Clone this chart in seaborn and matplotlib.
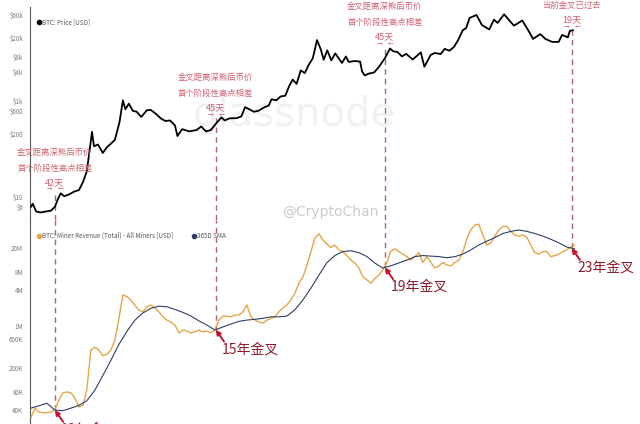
"""BTC price vs. miner revenue golden-cross chart (glassnode style)."""
import matplotlib

matplotlib.use("Agg")

import matplotlib.dates as mdates  # noqa: E402
import matplotlib.pyplot as plt  # noqa: E402
import matplotlib.ticker as mticker  # noqa: E402
import numpy as np  # noqa: E402
import pandas as pd  # noqa: E402
import seaborn as sns  # noqa: E402
from matplotlib.lines import Line2D  # noqa: E402

# --- data ----------------------------------------------------------------
price_dates = [
    "2012-01-01", "2012-01-15", "2012-02-10", "2012-03-15", "2012-04-20", "2012-06-01",
    "2012-07-01", "2012-07-30", "2012-08-15", "2012-09-10", "2012-10-20", "2012-11-25",
    "2013-01-01", "2013-02-01", "2013-03-01", "2013-03-20", "2013-04-10", "2013-04-25",
    "2013-05-25", "2013-07-01", "2013-08-01", "2013-09-01", "2013-10-01", "2013-11-05",
    "2013-12-01", "2013-12-20", "2014-01-15", "2014-02-15", "2014-03-15", "2014-04-20",
    "2014-06-01", "2014-07-01", "2014-08-10", "2014-09-15", "2014-10-20", "2014-11-25",
    "2015-01-01", "2015-01-20", "2015-02-25", "2015-04-20", "2015-06-15", "2015-07-20",
    "2015-08-25", "2015-10-01", "2015-11-07", "2015-12-20", "2016-01-15", "2016-02-20",
    "2016-04-15", "2016-05-20", "2016-06-18", "2016-07-20", "2016-08-25", "2016-10-01",
    "2016-11-05", "2016-12-15", "2017-01-05", "2017-02-10", "2017-03-15", "2017-04-20",
    "2017-05-20", "2017-06-15", "2017-07-15", "2017-08-15", "2017-09-15", "2017-10-15",
    "2017-11-15", "2017-12-17", "2018-01-15", "2018-02-06", "2018-03-05", "2018-04-05",
    "2018-05-05", "2018-06-25", "2018-07-25", "2018-08-15", "2018-10-01", "2018-11-10",
    "2018-11-25", "2018-12-15", "2019-01-15", "2019-02-25", "2019-04-03", "2019-05-17",
    "2019-06-26", "2019-07-20", "2019-08-20", "2019-09-25", "2019-10-26", "2019-12-15",
    "2020-01-20", "2020-02-15", "2020-03-13", "2020-04-30", "2020-06-01", "2020-07-15",
    "2020-08-15", "2020-09-20", "2020-10-25", "2020-11-25", "2020-12-31", "2021-01-25",
    "2021-02-20", "2021-04-14", "2021-05-25", "2021-07-20", "2021-08-25", "2021-09-21",
    "2021-11-10", "2021-12-20", "2022-01-24", "2022-03-28", "2022-05-12", "2022-06-18",
    "2022-08-12", "2022-09-20", "2022-11-10", "2022-12-30", "2023-01-25", "2023-03-10",
    "2023-03-25", "2023-04-20",
]
price_usd = [
    6.0, 7.0, 4.8, 4.6, 4.8, 5.0,
    6.0, 9.5, 11.5, 10.0, 11.0, 12.5,
    13.5, 20, 33, 80, 220, 110,
    120, 80, 105, 125, 150, 350,
    1000, 650, 850, 600, 580, 450,
    620, 630, 520, 420, 370, 380,
    300, 180, 250, 225, 240, 285,
    225, 240, 320, 440, 380, 420,
    425, 460, 720, 650, 575, 610,
    700, 780, 1050, 1000, 1200, 1250,
    2000, 2700, 2200, 4200, 3700, 5500,
    7500, 18000, 11500, 7000, 11000, 6800,
    9500, 6000, 8200, 6300, 6600, 6400,
    4000, 3300, 3600, 3800, 5000, 7500,
    12000, 10500, 10200, 8200, 9300, 7100,
    8600, 10000, 5000, 8800, 9700, 9200,
    11800, 10800, 13000, 18000, 29000, 32000,
    52000, 60000, 37000, 30000, 48000, 41000,
    62000, 46000, 36000, 46000, 29000, 19000,
    24000, 19000, 16500, 16500, 23000, 20500,
    28000, 29000,
]

# miner revenue (USD/day), one value per month from Jan 2012
revenue_usd = [
    30e3, 43e3, 37e3, 36e3, 36e3, 37e3, 40e3, 59e3, 77e3, 80e3, 77e3, 63e3,
    45e3, 48e3, 86e3, 400e3, 445e3, 400e3, 320e3, 340e3, 400e3, 587e3, 1.35e6, 3.3e6,
    3.1e6, 2.7e6, 2.25e6, 1.86e6, 1.73e6, 2.1e6, 2.25e6, 2.0e6, 1.73e6, 1.43e6, 1.26e6, 1.17e6,
    1.04e6, 770e3, 862e3, 830e3, 770e3, 800e3, 862e3, 800e3, 830e3, 770e3, 862e3, 1.26e6,
    1.47e6, 1.47e6, 1.43e6, 1.53e6, 1.53e6, 1.73e6, 2.25e6, 1.43e6, 1.26e6, 1.17e6, 1.12e6, 1.26e6,
    1.35e6, 1.43e6, 1.73e6, 2.0e6, 2.25e6, 2.73e6, 3.5e6, 5.2e6, 6.6e6, 10.4e6, 17.5e6, 29.5e6,
    34.5e6, 27e6, 23.5e6, 20.5e6, 22.5e6, 18.6e6, 17.5e6, 15e6, 12.6e6, 11.3e6, 9.3e6, 6.6e6,
    5.9e6, 5.2e6, 6.2e6, 7.1e6, 8.6e6, 11.5e6, 17.5e6, 19.4e6, 17.5e6, 15.9e6, 14.4e6, 12.6e6,
    14.4e6, 16.8e6, 11.5e6, 14.4e6, 11.5e6, 9.3e6, 10.1e6, 11.5e6, 10.4e6, 10.1e6, 11.5e6, 12.6e6,
    17.5e6, 29.5e6, 40e6, 48.5e6, 50e6, 33e6, 22.5e6, 24.4e6, 31.6e6, 40e6, 46e6, 46e6,
    37.5e6, 33e6, 31.6e6, 33e6, 30.4e6, 22.5e6, 16.8e6, 15.9e6, 17.5e6, 17.5e6, 14.4e6, 15e6,
    15.9e6, 17.5e6, 18.6e6, 20.8e6, 22.5e6,
]

# 365D SMA, one value every two months from Jan 2012
sma_usd = [
    43e3, 47e3, 52e3, 40e3, 39e3, 43e3,
    48e3, 57e3, 85e3, 150e3, 270e3, 500e3,
    820e3, 1.25e6, 1.65e6, 1.98e6, 2.15e6, 2.1e6,
    1.9e6, 1.7e6, 1.48e6, 1.23e6, 1.04e6, 862e3,
    970e3, 1.08e6, 1.2e6, 1.26e6, 1.3e6, 1.35e6,
    1.43e6, 1.43e6, 1.47e6, 1.86e6, 2.73e6, 4.3e6,
    7.1e6, 11.3e6, 15e6, 17.5e6, 18e6, 16.8e6,
    14.4e6, 11.3e6, 9.3e6, 10.1e6, 11.3e6, 12.6e6,
    14.4e6, 15e6, 14.7e6, 14.4e6, 13.8e6, 14.4e6,
    15.9e6, 18.6e6, 22.5e6, 26e6, 30e6, 35e6,
    38e6, 40e6, 38e6, 35e6, 31.6e6, 28e6,
    24.4e6, 20.8e6, 19.4e6,
]

cross_dates = ["2012-07-01", "2015-11-07", "2019-05-17", "2023-04-08"]
cross_labels = ["12年金叉", "15年金叉", "19年金叉", "23年金叉"]
gap_days = ["42天", "45天", "45天", "19天"]
gap_notes = [
    "金叉距离深熊后币价\n首个阶段性高点相差",
    "金叉距离深熊后币价\n首个阶段性高点相差",
    "金叉距离深熊后币价\n首个阶段性高点相差",
    "当前金叉已过去",
]

price_ticks = [6, 10, 200, 600, 1000, 4000, 8000, 20000, 60000]
price_tick_labels = ["$6", "$10", "$200", "$600", "$1k", "$4k", "$8k", "$20k", "$60k"]
rev_ticks = [40e3, 80e3, 200e3, 600e3, 1e6, 4e6, 8e6, 20e6]
rev_tick_labels = ["40K", "80K", "200K", "600K", "1M", "4M", "8M", "20M"]

# --- style -----------------------------------------------------------------
sns.set_theme(style="white")
plt.rcParams["font.family"] = ["Noto Sans CJK SC", "DejaVu Sans"]

NOTE = "#d0606f"
DASH = "#b0646e"
ARROW = "#c8102e"
LABEL = "#8e1b2c"
GOLD = "#e6a546"
NAVY = "#2e3f63"
TICK = "#7a7a7a"

price = pd.DataFrame({"date": pd.to_datetime(price_dates), "usd": price_usd})
revenue = pd.DataFrame({
    "date": pd.date_range("2012-01-01", periods=len(revenue_usd), freq="MS"),
    "usd": revenue_usd,
})
sma = pd.DataFrame({
    "date": pd.date_range("2012-01-01", periods=len(sma_usd), freq="2MS"),
    "usd": sma_usd,
})

fig = plt.figure(figsize=(6.4, 4.24), dpi=100)
ax1 = fig.add_axes([30 / 640, 204 / 424, 610 / 640, 213 / 424])
ax2 = fig.add_axes([30 / 640, 0, 610 / 640, 204 / 424])

sns.lineplot(data=price, x="date", y="usd", ax=ax1, color="black", lw=1.3, zorder=3)
sns.lineplot(data=revenue, x="date", y="usd", ax=ax2, color=GOLD, lw=1.0, zorder=3)
sns.lineplot(data=sma, x="date", y="usd", ax=ax2, color=NAVY, lw=0.8, zorder=3)

xlim = (pd.Timestamp("2011-12-25"), pd.Timestamp("2024-09-09"))
panels = (
    (ax1, (3.2, 88000), price_ticks, price_tick_labels),
    (ax2, (23.4e3, 58.7e6), rev_ticks, rev_tick_labels),
)
for ax, ylim, ticks, labels in panels:
    ax.set_yscale("log")
    ax.set_ylim(*ylim)
    ax.set_xlim(*xlim)
    ax.set_yticks(ticks, labels)
    ax.yaxis.set_minor_locator(mticker.NullLocator())
    ax.set_xticks([])
    ax.set_xlabel("")
    ax.set_ylabel("")
    ax.tick_params(axis="y", length=0, pad=5, labelsize=4.5, labelcolor=TICK)
    for side in ("top", "right", "bottom"):
        ax.spines[side].set_visible(False)
    ax.spines["left"].set_color("#555555")
    ax.spines["left"].set_linewidth(0.8)
    ax.patch.set_alpha(0)

# watermarks
ax1.text(0.434, 0.493, "glassnode", transform=ax1.transAxes, ha="center", va="center",
         fontsize=29, color="#f1f1f1", zorder=0, family="DejaVu Sans")
ax1.text(0.492, 0.038, "@CryptoChan", transform=ax1.transAxes, ha="center", va="center",
         fontsize=10, color="#cccccc", zorder=1, family="DejaVu Sans")

# legends
ax1.legend(handles=[Line2D([], [], marker="o", ls="", color="black", ms=3)],
           labels=["BTC: Price [USD]"], loc="upper left", bbox_to_anchor=(0.0, 0.975),
           frameon=False, fontsize=4.5, handletextpad=0.1, handlelength=1, labelcolor="#555555")
ax2.legend(handles=[Line2D([], [], marker="o", ls="", color=GOLD, ms=3),
                    Line2D([], [], marker="o", ls="", color=NAVY, ms=3)],
           labels=["BTC: Miner Revenue (Total) - All Miners [USD]", "365D SMA"],
           loc="upper left", bbox_to_anchor=(0.0, 0.97), ncol=2, columnspacing=2.7,
           frameon=False, fontsize=4.5, handletextpad=0.1, handlelength=1, labelcolor="#555555")

# golden-cross annotations
cross_ts = pd.to_datetime(cross_dates)
cross_val = 10 ** np.interp(mdates.date2num(cross_ts), mdates.date2num(sma["date"]),
                            np.log10(sma_usd))
day_frac = [0.174, 0.526, 0.859, 0.939]
frac_pos = ("data", "axes fraction")

for i, x in enumerate(cross_ts):
    ax1.axvline(x, ymin=0, ymax=day_frac[i] - 0.045, color=DASH, lw=1.0, dashes=(4, 3), zorder=2)
    ax2.vlines(x, cross_val[i], ax2.get_ylim()[1], color=DASH, lw=1.0,
               linestyles=(0, (4, 3)), zorder=2)

    ax1.annotate(gap_days[i], xy=(x, day_frac[i]), xycoords=frac_pos, ha="center",
                 va="center", fontsize=6.5, color=NOTE)
    for j, line in enumerate(reversed(gap_notes[i].split("\n"))):
        ax1.annotate(line, xy=(x, day_frac[i]), xycoords=frac_pos, xytext=(0, 10.5 + 11.5 * j),
                     textcoords="offset points", ha="center", va="center", fontsize=6, color=NOTE)
    for dx, mark in ((-4, "→"), (4, "←")):
        ax1.annotate(mark, xy=(x, day_frac[i]), xycoords=frac_pos, xytext=(dx, -5),
                     textcoords="offset points", ha="center", va="center", fontsize=4,
                     color=NOTE)

    ax2.annotate("", xy=(x, cross_val[i]), xytext=(6, -8.5), textcoords="offset points",
                 arrowprops=dict(arrowstyle="-|>", color=ARROW, lw=1.4, mutation_scale=7,
                                 shrinkA=0, shrinkB=0), zorder=4)
    ax2.annotate(cross_labels[i], xy=(x, cross_val[i]), xytext=(4.5, -14),
                 textcoords="offset points", ha="left", va="center", fontsize=10,
                 color=LABEL, annotation_clip=False)

fig.savefig("out.png", dpi=100)
plt.close(fig)
